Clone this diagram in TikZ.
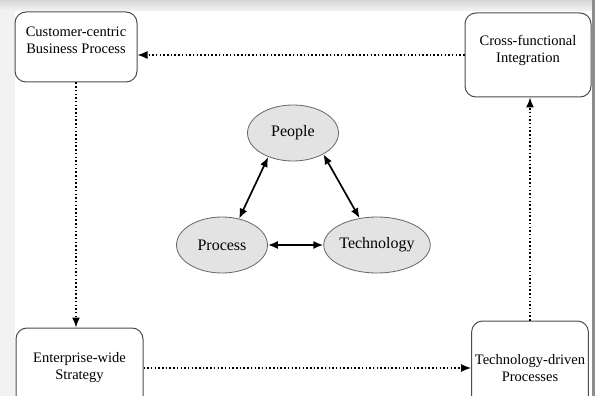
\documentclass[tikz,border=0pt]{standalone}
\usepackage{fontspec}
\setmainfont{Liberation Serif}
\usetikzlibrary{arrows.meta,shapes.geometric}

\begin{document}
\begin{tikzpicture}[x=1pt,y=-1pt,
    stagebox/.style={rectangle,draw=black!70,line width=1pt,rounded corners=11pt,fill=white,
      align=center,font=\fontsize{14.5}{17}\selectfont},
    elem/.style={ellipse,draw=black!60,line width=0.8pt,fill=black!11,inner sep=0pt,
      minimum width=91pt,minimum height=56pt,font=\fontsize{16}{18}\selectfont},
    flow/.style={-{Latex[length=10pt,width=8pt]},line width=1.4pt,dash pattern=on 1.5pt off 2.2pt},
    link/.style={{Latex[length=10pt,width=8pt]}-{Latex[length=10pt,width=8pt]},line width=1.7pt}]
        \useasboundingbox (0,0) rectangle (595,396);
        % screenshot edges
        \fill[black!5] (0,0) rectangle (15,396);
        \shade[top color=black!16,bottom color=black!4] (0,0) rectangle (595,11);
        \fill[black!45] (592,0) rectangle (595,396);

        \node[stagebox, minimum width = 122pt, minimum height = 70pt] (customer)
             at (76,47) {Customer-centric\\Business Process\\[-4pt]};
        \node[stagebox, minimum width = 126pt, minimum height = 84pt] (integration)
             at (528,55) {Cross-functional\\Integration\\[-4pt]};
        \node[stagebox, minimum width = 127pt, minimum height = 80pt] (strategy)
             at (79.5,368) {Enterprise-wide\\Strategy};
        \node[stagebox, minimum width = 116pt, minimum height = 94pt] (techproc)
             at (530,368) {Technology-driven\\Processes};

        \node[elem] (people) at (293,133) {People};
        \node[elem] (process) at (222,245) {Process};
        \node[elem] (technology) at (377,245) {Technology};

        \draw[flow] (integration.west) -- (integration.west -| customer.east);
        \draw[flow] (customer.south) -- (customer.south |- strategy.north);
        \draw[flow] (strategy.east) -- (strategy.east -| techproc.west);
        \draw[flow] (techproc.north) -- (techproc.north |- integration.south);

        \draw[link] (people.224) -- (process.57);
        \draw[link] (people.325) -- (technology.123);
        \draw[link] (process.east) -- (technology.west);
\end{tikzpicture}
\end{document}
